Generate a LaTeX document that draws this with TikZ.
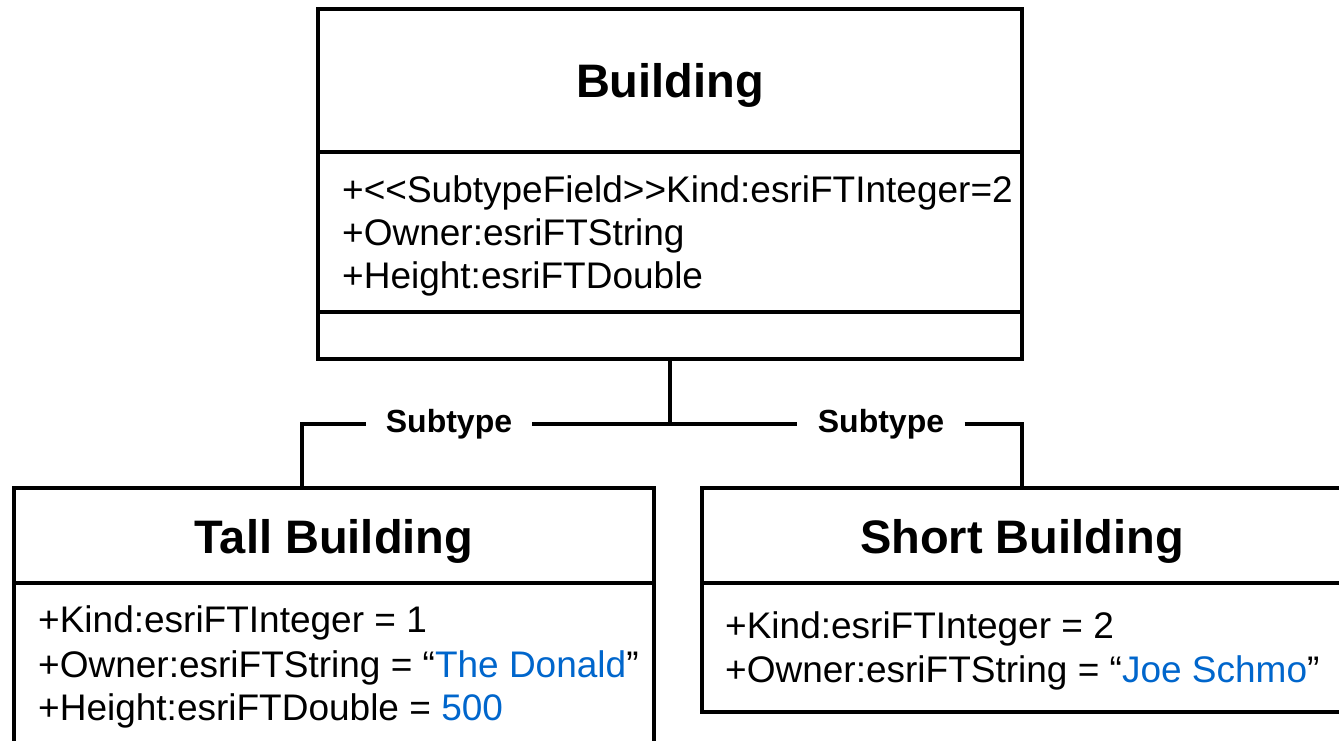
\documentclass[tikz,border=0pt]{standalone}
\usepackage{fontspec}
\setmainfont{Liberation Sans}
\definecolor{valblue}{RGB}{0,102,204}
\tikzset{
  box/.style={draw, line width=4pt, rectangle, inner sep=0pt, outer sep=0pt, anchor=north west},
  ttl/.style={font=\fontsize{47}{56}\selectfont\bfseries, anchor=base, inner sep=0pt},
  attr/.style={font=\fontsize{37}{44}\selectfont, anchor=base west, inner sep=0pt},
  lbl/.style={font=\fontsize{32}{38}\selectfont\bfseries, inner sep=0pt},
  conn/.style={line width=4pt},
  sep/.style={line width=4pt}
}
\begin{document}
\begin{tikzpicture}[x=1pt,y=-1pt]
\useasboundingbox (0,0) rectangle (1339,741);
\clip (0,0) rectangle (1339,741);
\fill[white] (0,0) rectangle (1339,741);
% Building
\node[box, minimum width=704pt, minimum height=350pt] (B) at (318,9) {};
\draw[sep] (B.west |- 0,152) -- (B.east |- 0,152);
\draw[sep] (B.west |- 0,312) -- (B.east |- 0,312);
\node[ttl] (Bt) at (670,98) {Building};
\node[attr] (Ba1) at (342,202) {+{<}{<}SubtypeField{>}{>}Kind:esriFTInteger=2};
\node[attr] (Ba2) at (342,245) {+Owner:esriFTString};
\node[attr] (Ba3) at (342,288) {+Height:esriFTDouble};
% Tall Building
\node[box, minimum width=640pt, minimum height=280pt] (T) at (14,488) {};
\draw[sep] (T.west |- 0,583) -- (T.east |- 0,583);
\node[ttl] (Tt) at (334,553) {Tall Building};
\node[attr] (Ta1) at (38,632) {+Kind:esriFTInteger = 1};
\node[attr] (Ta2) at (38,677) {+Owner:esriFTString = “\textcolor{valblue}{The Donald}”};
\node[attr] (Ta3) at (38,720) {+Height:esriFTDouble = \textcolor{valblue}{500}};
% Short Building
\node[box, minimum width=660pt, minimum height=224pt] (S) at (702,488) {};
\draw[sep] (S.west |- 0,583) -- (S.east |- 0,583);
\node[ttl] (St) at (1022,553) {Short Building};
\node[attr] (Sa1) at (725,638) {+Kind:esriFTInteger = 2};
\node[attr] (Sa2) at (725,682) {+Owner:esriFTString = “\textcolor{valblue}{Joe Schmo}”};
% connectors
\coordinate (J) at (670,424);
\coordinate (TL) at (302,424);
\coordinate (TR) at (1022,424);
\node[lbl, minimum width=166pt] (L1) at (449,424) {Subtype};
\node[lbl, minimum width=167pt] (L2) at (881,424) {Subtype};
\draw[conn] (B.south) -- (J);
\draw[conn] (L1.east) -- (L2.west);
\draw[conn] (L1.west) -- (TL) -- (TL |- T.north);
\draw[conn] (L2.east) -- (TR) -- (TR |- S.north);
\end{tikzpicture}
\end{document}
